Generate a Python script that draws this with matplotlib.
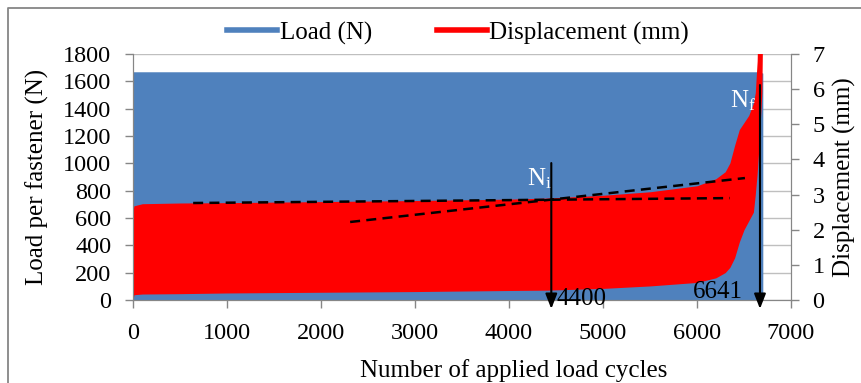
"""
Fastener fatigue test: load and displacement vs. number of applied load cycles.

Load is shown as a filled band on the left axis, displacement as a filled
envelope on the right axis, with crack initiation (Ni) and failure (Nf) marks.
"""

import matplotlib
matplotlib.use("Agg")
import matplotlib.pyplot as plt
from matplotlib.lines import Line2D

# ---- data ----
# load signal (N): oscillates between 0 and the peak, shown as a filled band
load_cycles = [0, 6660, 6700]
load_peak = [1670, 1670, 1660]

# displacement envelope (mm): lower / upper limits of the oscillation
disp_cycles = [0, 10, 100, 500, 1000, 2000, 3000, 4000, 4400, 5000, 5500,
               6000, 6200, 6300, 6350, 6400, 6450, 6500, 6550, 6600, 6620,
               6640, 6650, 6660, 6690, 6700]
disp_lower = [0.0, 0.15, 0.17, 0.18, 0.20, 0.22, 0.24, 0.27, 0.28, 0.33, 0.40,
              0.50, 0.63, 0.78, 0.93, 1.20, 1.65, 2.00, 2.25, 2.50, 3.00,
              3.60, 4.00, 4.40, 5.90, 8.00]
disp_upper = [2.55, 2.68, 2.74, 2.76, 2.77, 2.80, 2.83, 2.87, 2.90, 2.98, 3.08,
              3.25, 3.45, 3.65, 3.90, 4.40, 4.85, 5.05, 5.25, 5.60, 5.90,
              6.80, 8.00, 8.00, 8.00, 8.00]

# dashed tangent lines (cycles, mm)
tangent1_x = [640, 6350]
tangent1_y = [2.76, 2.90]
tangent2_x = [2310, 6510]
tangent2_y = [2.22, 3.47]

# crack initiation / failure markers
ni_label, ni_x, ni_top = "4400", 4450, 1002
nf_label, nf_x, nf_top = "6641", 6670, 1573

x_ticks = [0, 1000, 2000, 3000, 4000, 5000, 6000, 7000]
load_ticks = [0, 200, 400, 600, 800, 1000, 1200, 1400, 1600, 1800]
disp_ticks = [0, 1, 2, 3, 4, 5, 6, 7]

# ---- style ----
BLUE = "#4F81BD"
RED = "#FF0000"
GRID = "#BFBFBF"
SPINE = "#868686"

plt.rcParams["font.family"] = ["Liberation Serif", "DejaVu Serif"]
plt.rcParams["mathtext.fontset"] = "custom"
plt.rcParams["mathtext.rm"] = "Liberation Serif"
plt.rcParams["mathtext.it"] = "Liberation Serif"

TICK_FS = 17.5
LABEL_FS = 18

fig = plt.figure(figsize=(8.61, 3.83), dpi=100)
ax = fig.add_axes([133 / 861, 1 - 300 / 383, (791 - 133) / 861, (300 - 54) / 383])
ax2 = ax.twinx()

# load band
ax.fill_between(load_cycles, 0, load_peak, color=BLUE, linewidth=0, zorder=2)
ax.set_xlim(0, 7000)
ax.set_ylim(0, 1800)
ax.set_xticks(x_ticks)
ax.set_yticks(load_ticks)
ax.yaxis.grid(True, color=GRID, linewidth=1)
ax.set_axisbelow(True)

# displacement envelope
ax2.fill_between(disp_cycles, disp_lower, disp_upper, color=RED, linewidth=0)
ax2.set_ylim(0, 7)
ax2.set_yticks(disp_ticks)

# tangent lines
ax2.plot(tangent1_x, tangent1_y, color="black", linestyle=(0, (4, 2.5)), linewidth=1.8)
ax2.plot(tangent2_x, tangent2_y, color="black", linestyle=(0, (4, 2.5)), linewidth=1.8)

# Ni / Nf arrows (load units)
for x, top in [(ni_x, ni_top), (nf_x, nf_top)]:
    ax2.annotate("", xy=(x, -65), xytext=(x, top),
                 xycoords=ax.transData, textcoords=ax.transData,
                 arrowprops=dict(arrowstyle="-|>,head_length=0.9,head_width=0.35",
                                 color="black", linewidth=1.5,
                                 shrinkA=0, shrinkB=0),
                 annotation_clip=False)

ax2.text(4190, 842, r"N$_\mathrm{i}$", color="white", fontsize=18,
         transform=ax.transData)
ax2.text(6350, 1412, r"N$_\mathrm{f}$", color="white", fontsize=18,
         transform=ax.transData)
ax2.text(4510, -40, ni_label, color="black", fontsize=18,
         transform=ax.transData, clip_on=False)
ax2.text(6490, 12, nf_label, color="black", fontsize=18, ha="right",
         transform=ax.transData, clip_on=False)

# spines and ticks
for a in (ax, ax2):
    a.spines["top"].set_visible(False)
    for side in ("left", "right", "bottom"):
        a.spines[side].set_color(SPINE)
ax.tick_params(axis="both", colors=SPINE, labelcolor="black", length=5.5,
               width=1, labelsize=TICK_FS)
ax.tick_params(axis="y", pad=10)
ax.tick_params(axis="x", pad=11)
ax2.tick_params(axis="y", colors=SPINE, labelcolor="black", length=5.5,
                width=1, labelsize=TICK_FS, pad=10)

# Excel placed the x title right of centre
ax.set_xlabel("Number of applied load cycles", fontsize=LABEL_FS, labelpad=11,
              x=0.578)
ax.set_ylabel("Load per fastener (N)", fontsize=LABEL_FS, labelpad=10)
ax2.set_ylabel("Displacement (mm)", fontsize=LABEL_FS, labelpad=6)

# legend
handles = [Line2D([], [], color=BLUE, linewidth=4),
           Line2D([], [], color=RED, linewidth=4)]
fig.legend(handles, ["Load (N)", "Displacement (mm)"], loc="center",
           bbox_to_anchor=(0.532, 1 - 33 / 383), ncol=2, frameon=False,
           fontsize=LABEL_FS, handlelength=2.0, handletextpad=0.1,
           columnspacing=2.6)

# chart area border (only top and left edges are inside the picture)
fig.add_artist(Line2D([8 / 861, 8 / 861, 1.0], [0.0, 1 - 8 / 383, 1 - 8 / 383],
                      transform=fig.transFigure, color=SPINE, linewidth=1.3))

fig.savefig("out.png", dpi=100)
